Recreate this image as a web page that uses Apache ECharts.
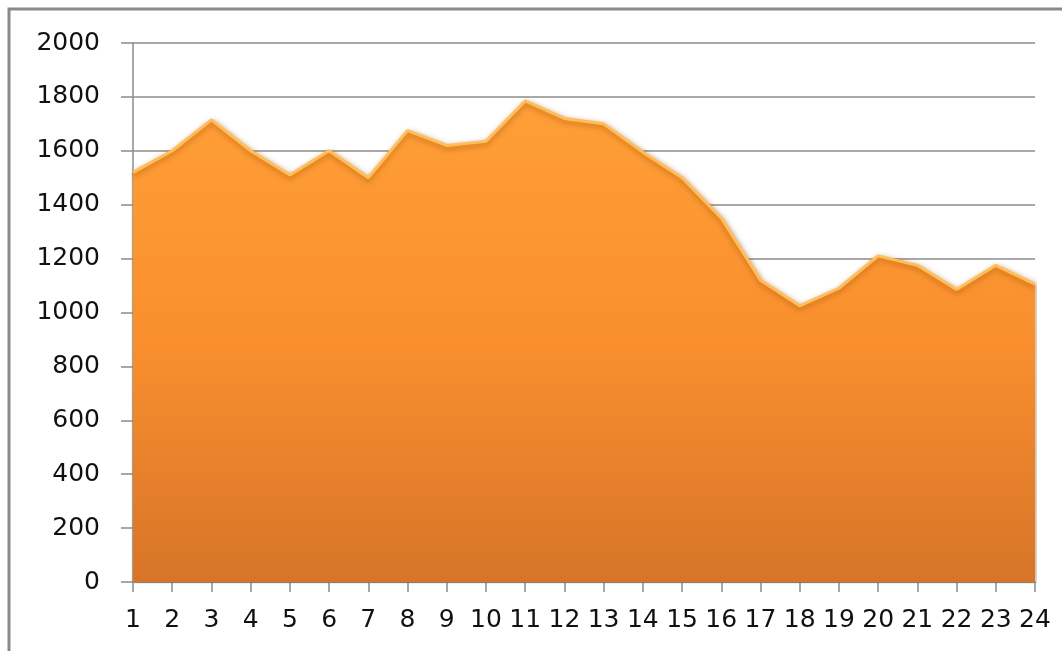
<!DOCTYPE html>
<html>
<head>
<meta charset="utf-8">
<script src="https://cdn.jsdelivr.net/npm/echarts@6/dist/echarts.min.js"></script>
<style>
  html, body { margin: 0; padding: 0; background: #fff; }
  #chart { width: 1062px; height: 651px; }
</style>
</head>
<body>
<div id="chart"></div>
<script>
// x categories (hours 1..24)
const categories = ['1','2','3','4','5','6','7','8','9','10','11','12',
  '13','14','15','16','17','18','19','20','21','22','23','24'];
// values
const values = [1520, 1600, 1715, 1600, 1510, 1600, 1500, 1675, 1620, 1635, 1785, 1720,
  1700, 1595, 1500, 1350, 1120, 1025, 1090, 1210, 1175, 1085, 1175, 1105];
const yMin = 0;
const yMax = 2000;
const yStep = 200;

const chart = echarts.init(document.getElementById('chart'), null, { renderer: 'canvas' });

const option = {
  backgroundColor: '#fff',
  animation: false,
  textStyle: { fontFamily: '"DejaVu Sans", sans-serif' },
  // outer frame of the chart (runs off the right and bottom edge)
  graphic: [{
    type: 'rect',
    silent: true,
    shape: { x: 9, y: 9, width: 1200, height: 800 },
    style: { fill: 'none', stroke: '#8a8a8a', lineWidth: 3 }
  }],
  grid: { left: 133, right: 27, top: 43, bottom: 69 },
  xAxis: {
    type: 'category',
    data: categories,
    boundaryGap: false,
    axisLine: { lineStyle: { color: '#8c8c8c', width: 1.5 } },
    axisTick: { show: true, length: 10, lineStyle: { color: '#8c8c8c', width: 1.5 } },
    axisLabel: { interval: 0, fontSize: 25, color: '#111', margin: 26 },
    splitLine: { show: false }
  },
  yAxis: {
    type: 'value',
    min: yMin,
    max: yMax,
    interval: yStep,
    axisLine: { show: true, lineStyle: { color: '#8c8c8c', width: 1.5 } },
    axisTick: { show: true, length: 12, lineStyle: { color: '#8c8c8c', width: 1.5 } },
    axisLabel: { fontSize: 25, color: '#111', margin: 33, formatter: v => String(v) },
    splitLine: { show: true, lineStyle: { color: '#8c8c8c', width: 1.5 } }
  },
  series: [{
    type: 'line',
    data: values,
    symbol: 'none',
    lineStyle: {
      color: '#ffbe5c',
      width: 3,
      shadowColor: 'rgba(160,80,0,0.5)',
      shadowBlur: 5,
      shadowOffsetY: 3
    },
    areaStyle: {
      color: new echarts.graphic.LinearGradient(0, 0, 0, 1, [
        { offset: 0, color: '#ff9f36' },
        { offset: 0.5, color: '#f98f2e' },
        { offset: 1, color: '#d77428' }
      ]),
      opacity: 1,
      shadowColor: 'rgba(120,60,10,0.45)',
      shadowBlur: 6,
      shadowOffsetX: 2,
      shadowOffsetY: 1
    },
    z: 3
  }]
};

chart.setOption(option);
</script>
</body>
</html>
